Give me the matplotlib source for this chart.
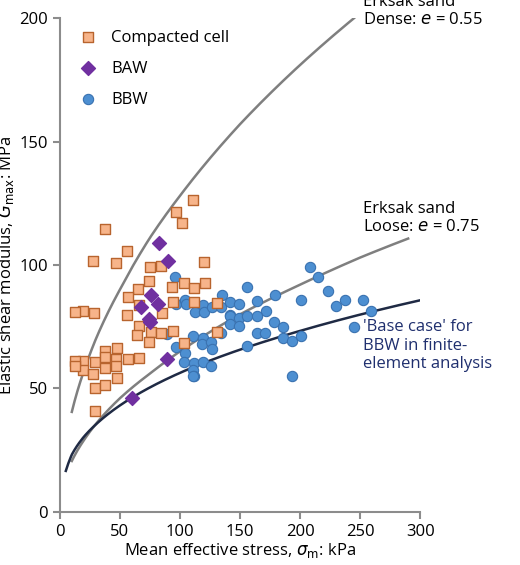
import matplotlib
matplotlib.use("Agg")
import matplotlib.pyplot as plt
import numpy as np

plt.rcParams['font.family'] = ['Open Sans', 'DejaVu Sans']

cell_x = [111,97,102,37.5,56,28,47,75,84,120,74,93,103,112,121,65,57,94,112,66,85,19,28.6,55.6,66,64.4,75.6,84,94,74,103,130.6,37.5,47.8,19.4,19.4,29.7,38,47,57,66,27.8,38,47,29,38,48,29,130.6,13,13,13]
cell_y = [126.3,121.6,117,114.5,105.8,101.7,101,99.3,99.6,101.3,93.6,91.2,92.8,90.8,92.6,90.2,87,85,85.1,83.8,80.7,81.4,80.4,79.8,75.3,71.7,73,72.3,73.4,69,68.3,72.8,65.2,66.5,61.1,57.5,60.9,62.6,61.8,62,62.5,55.9,58.2,59.2,50,51.4,54.1,41,84.5,81,61,59]

baw_x = [83,90,75.6,68,82,74.4,75,89,60.5]
baw_y = [109,101.6,88,83,84,78,77,61.8,46]

bbw_x = [96,97,104,105,112.5,119,120,127,134,135,89,97,104,103.6,111,119,118,126,127,134,112,111,112,119,126,142,
         142,149,156,164,172,179,142,149,142,149,156,164,178,186,200.6,208,215,223,230,237.5,252,259,245,164,171,186,193,201,111,156,193]
bbw_y = [95.3,84.2,86,84,80.8,83.8,81,82.9,82.9,87.9,72,66.7,64.3,60.6,71.4,70.6,68,68.7,66,72.3,60.2,57.5,55.2,60.6,59.2,79.8,
         85.1,84.2,91,85.4,81.5,87.9,79.4,78.4,76,75.3,79.5,79.5,77,74.8,85.8,99,95,89.5,83.4,85.8,85.8,81.4,75,72.6,72.6,70.3,69.2,71.3,55,67,55]

dense_x = [10,20,30,50,75,100,150,200,245]
dense_y = [40.5,57,70,90,111,128,157,181,200]
loose_x = [10,20,30,50,75,100,150,200,250,290]
loose_y = [20.6,29,35.6,46,56,65,80,92,103,110.7]
base_x = [5,10,20,30,50,75,100,150,200,250,310]
base_y = [16.6,23.2,30.4,35.4,43.1,50.4,56.3,65.7,73.3,79.9,86.8]

fig = plt.figure(figsize=(5.2, 5.65), dpi=100)
ax = fig.add_axes([0.115, 0.094, 0.693, 0.874])

def smooth(xs, ys):
    xf = np.linspace(xs[0], xs[-1], 300)
    # log-log interpolation for smoothness
    yf = np.exp(np.interp(np.log(xf), np.log(xs), np.log(ys)))
    return xf, yf

ax.plot(*smooth(dense_x, dense_y), color='#7f7f7f', lw=1.8, zorder=1)
ax.plot(*smooth(loose_x, loose_y), color='#7f7f7f', lw=1.8, zorder=1)
ax.plot(*smooth(base_x, base_y), color='#1f2a44', lw=1.8, zorder=1)

ax.scatter(cell_x, cell_y, marker='s', s=55, facecolor='#f7b48a', edgecolor='#b8642e', lw=1, zorder=3, label='Compacted cell')
ax.scatter(baw_x, baw_y, marker='D', s=50, facecolor='#7030a0', edgecolor='#7030a0', zorder=4, label='BAW')
ax.scatter(bbw_x, bbw_y, marker='o', s=55, facecolor='#4d8fd1', edgecolor='#3a72b0', lw=0.8, zorder=2, label='BBW')

ax.set_xlim(0, 300)
ax.set_ylim(0, 200)
ax.set_xticks([0,50,100,150,200,250,300])
ax.set_yticks([0,50,100,150,200])
for s in ['top','right']:
    ax.spines[s].set_visible(False)
for s in ['left','bottom']:
    ax.spines[s].set_color('#8c8c8c'); ax.spines[s].set_linewidth(1.5)
ax.tick_params(colors='#8c8c8c', labelcolor='black', labelsize=12, length=5, width=1.5)
ax.set_xlabel(r'Mean effective stress, $\sigma_\mathrm{m}$: kPa', fontsize=12, labelpad=1)
ax.set_ylabel(r'Elastic shear modulus, $G_\mathrm{max}$: MPa', fontsize=12, labelpad=2)

ax.legend(loc='upper left', frameon=False, fontsize=12, bbox_to_anchor=(0.0, 1.0),
          handletextpad=0.4, labelspacing=0.9, borderaxespad=0.3)

ax.text(252, 196, 'Erksak sand\nDense: $e$ = 0.55', fontsize=12, va='bottom', ha='left', clip_on=False, linespacing=1.2)
ax.text(252, 112, 'Erksak sand\nLoose: $e$ = 0.75', fontsize=12, va='bottom', ha='left', clip_on=False, linespacing=1.2)
ax.text(252, 78, "'Base case' for\nBBW in finite-\nelement analysis", fontsize=12, va='top', ha='left',
        color='#1f2f6e', clip_on=False, linespacing=1.2)

fig.savefig('out.png', dpi=100)
